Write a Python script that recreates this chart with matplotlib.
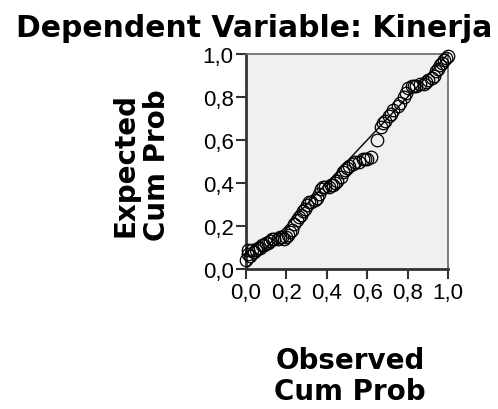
import matplotlib
matplotlib.use("Agg")
import matplotlib.pyplot as plt

# P-P plot values (observed vs expected cumulative probability)
observed = [0.00, 0.01, 0.01, 0.02, 0.03, 0.04, 0.05, 0.06, 0.07, 0.08,
            0.09, 0.10, 0.11, 0.12, 0.13, 0.14, 0.16, 0.17, 0.18, 0.19,
            0.20, 0.21, 0.22, 0.23, 0.24, 0.25, 0.26, 0.27, 0.28, 0.29,
            0.30, 0.31, 0.32, 0.34, 0.35, 0.36, 0.37, 0.38, 0.39, 0.41,
            0.42, 0.43, 0.44, 0.45, 0.47, 0.48, 0.49, 0.50, 0.51, 0.53,
            0.54, 0.56, 0.58, 0.59, 0.60, 0.62, 0.65, 0.67, 0.68, 0.69,
            0.71, 0.72, 0.73, 0.75, 0.76, 0.78, 0.79, 0.80, 0.82, 0.83,
            0.84, 0.86, 0.88, 0.89, 0.90, 0.92, 0.93, 0.94, 0.95, 0.96,
            0.97, 0.98, 0.99, 1.00]
expected = [0.04, 0.07, 0.09, 0.06, 0.09, 0.08, 0.09, 0.10, 0.10, 0.11,
            0.11, 0.12, 0.12, 0.13, 0.14, 0.14, 0.14, 0.15, 0.15, 0.14,
            0.15, 0.16, 0.17, 0.18, 0.21, 0.23, 0.24, 0.25, 0.27, 0.28,
            0.30, 0.31, 0.31, 0.32, 0.33, 0.35, 0.37, 0.38, 0.38, 0.38,
            0.39, 0.39, 0.40, 0.41, 0.43, 0.45, 0.46, 0.47, 0.48, 0.49,
            0.50, 0.50, 0.51, 0.51, 0.51, 0.52, 0.60, 0.66, 0.68, 0.69,
            0.71, 0.72, 0.74, 0.76, 0.77, 0.80, 0.82, 0.84, 0.85, 0.85,
            0.85, 0.86, 0.86, 0.87, 0.88, 0.89, 0.90, 0.92, 0.93, 0.95,
            0.96, 0.97, 0.98, 0.99]
ticks = [0.0, 0.2, 0.4, 0.6, 0.8, 1.0]
tick_labels = ["0,0", "0,2", "0,4", "0,6", "0,8", "1,0"]

title = "Dependent Variable: Kinerja"
x_label = "Observed\nCum Prob"
y_label = "Expected\nCum Prob"

fig = plt.figure(figsize=(4.98, 4.10), dpi=100)
ax = fig.add_axes([246 / 498, 1 - 270 / 410, 202 / 498, 215 / 410])
ax.set_facecolor("#f0f0f0")

ax.plot([0, 1], [0, 1], color="black", lw=1.0, zorder=2)
ax.plot(observed, expected, linestyle="none", marker="o", markersize=9,
        markerfacecolor="none", markeredgecolor="black", markeredgewidth=0.9,
        zorder=3, clip_on=False)

ax.set_xlim(0, 1)
ax.set_ylim(0, 1)
ax.set_xticks(ticks)
ax.set_yticks(ticks)
ax.set_xticklabels(tick_labels, family="Liberation Sans", fontsize=16)
ax.set_yticklabels(tick_labels, family="Liberation Sans", fontsize=16)
ax.tick_params(direction="out", length=7, width=1.5, color="#333333", pad=2)

for side in ["left", "bottom"]:
    ax.spines[side].set_linewidth(2.0)
    ax.spines[side].set_color("#333333")
for side in ["top", "right"]:
    ax.spines[side].set_linewidth(1.2)
    ax.spines[side].set_color("#666666")

fig.text(254 / 498, 1 - 37 / 410, title, ha="center", va="baseline",
         family="DejaVu Sans", fontweight="bold", fontsize=21.5)
fig.text(350 / 498, 1 - 347 / 410, x_label, ha="center", va="top",
         family="DejaVu Sans", fontweight="bold", fontsize=20,
         linespacing=1.15)
fig.text(141 / 498, 1 - 165 / 410, y_label, ha="center", va="center",
         rotation=90, family="DejaVu Sans", fontweight="bold", fontsize=20,
         linespacing=1.15)

fig.savefig("out.png", dpi=100)
